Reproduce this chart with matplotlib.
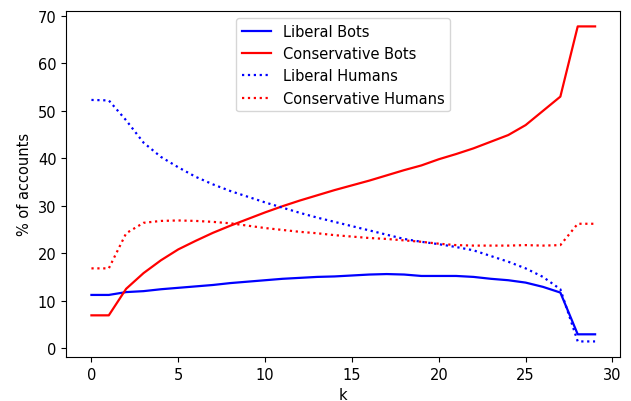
import numpy as np
import matplotlib
matplotlib.use("Agg")
import matplotlib.pyplot as plt

# values (% of accounts per k)
k = list(range(30))
liberal_bots = [11.2, 11.2, 11.8, 12.0, 12.4, 12.7, 13.0, 13.3, 13.7, 14.0,
                14.3, 14.6, 14.8, 15.0, 15.1, 15.3, 15.5, 15.6, 15.5, 15.2,
                15.2, 15.2, 15.0, 14.6, 14.3, 13.8, 12.9, 11.7, 2.9, 2.9]
conservative_bots = [6.9, 6.9, 12.5, 15.8, 18.5, 20.8, 22.6, 24.3, 25.8, 27.2,
                     28.6, 29.9, 31.1, 32.2, 33.3, 34.3, 35.3, 36.4, 37.5, 38.5,
                     39.8, 40.9, 42.1, 43.5, 44.9, 47.0, 50.0, 53.0, 67.8, 67.8]
liberal_humans = [52.3, 52.2, 48.0, 43.3, 40.3, 38.1, 36.1, 34.5, 33.1, 31.9,
                  30.7, 29.6, 28.5, 27.5, 26.6, 25.7, 24.8, 23.9, 23.0, 22.4,
                  21.9, 21.3, 20.6, 19.4, 18.2, 16.8, 15.0, 12.4, 1.4, 1.4]
conservative_humans = [16.8, 16.8, 24.2, 26.4, 26.8, 26.9, 26.8, 26.6, 26.3, 25.8,
                       25.3, 24.9, 24.5, 24.2, 23.8, 23.5, 23.2, 23.0, 22.7, 22.4,
                       22.0, 21.7, 21.6, 21.6, 21.6, 21.7, 21.6, 21.7, 26.2, 26.2]

plt.rcParams["font.size"] = 10.5
plt.rcParams["lines.linewidth"] = 1.6

fig, ax = plt.subplots(figsize=(6.31, 4.02), dpi=100)
fig.subplots_adjust(left=0.105, right=0.983, top=0.971, bottom=0.109)

ax.plot(k, liberal_bots, color="blue", label="Liberal Bots")
ax.plot(k, conservative_bots, color="red", label="Conservative Bots")
ax.plot(k, liberal_humans, color="blue", linestyle=":", label="Liberal Humans")
ax.plot(k, conservative_humans, color="red", linestyle=":", label="Conservative Humans")

ax.set_xlabel("k")
ax.set_ylabel("% of accounts")
ax.legend(loc="upper center")

fig.savefig("out.png", dpi=100)
